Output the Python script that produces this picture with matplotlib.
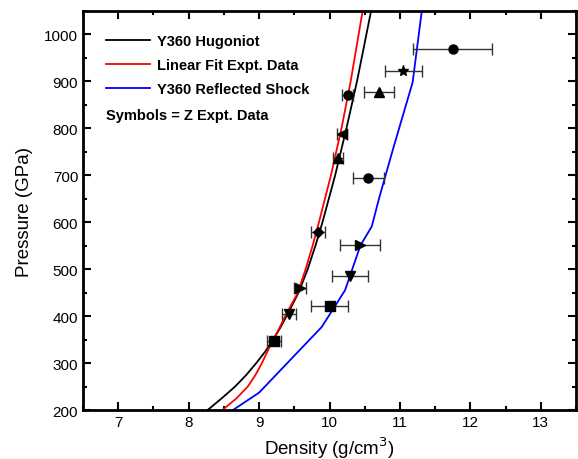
import matplotlib
matplotlib.use("Agg")
import matplotlib.pyplot as plt
from matplotlib.ticker import MultipleLocator

plt.rcParams['font.family'] = ['Liberation Sans', 'DejaVu Sans']

# curves (pressure in GPa, density in g/cm^3)
hug_p = [200, 225, 250, 275, 300, 325, 350, 375, 400, 450, 500, 550, 600, 700, 800, 900, 1050]
hug_rho = [8.27, 8.47, 8.66, 8.82, 8.96, 9.09, 9.20, 9.30, 9.39, 9.56, 9.69, 9.80, 9.90,
           10.08, 10.24, 10.39, 10.59]

fit_p = [200, 225, 250, 275, 300, 325, 350, 375, 400, 450, 500, 550, 600, 700, 800, 900, 1050]
fit_rho = [8.48, 8.68, 8.84, 8.95, 9.04, 9.12, 9.20, 9.29, 9.37, 9.55, 9.66, 9.76, 9.85,
           10.02, 10.17, 10.30, 10.47]

refl_p = [200, 237, 377, 455, 551, 591, 649, 755, 898, 1050]
refl_rho = [8.63, 9.00, 9.89, 10.22, 10.44, 10.60, 10.70, 10.90, 11.18, 11.31]

# Z experimental points
z_rho = [11.75, 11.05, 10.70, 10.26, 10.18, 10.12, 10.55, 9.84, 10.43, 10.29, 9.58, 10.00, 9.42, 9.21]
z_p = [968, 923, 877, 872, 788, 737, 694, 580, 551, 485, 460, 422, 404, 347]
z_err = [0.56, 0.26, 0.21, 0.08, 0.07, 0.07, 0.22, 0.10, 0.28, 0.26, 0.09, 0.26, 0.10, 0.10]
z_mk = ['o', '*', '^', 'o', '<', '^', 'o', 'D', '>', 'v', '>', 's', 'v', 's']

fig = plt.figure(figsize=(5.78, 4.60), dpi=100)
ax = fig.add_axes([0.1436, 0.1065, 0.853, 0.8674])

ax.plot(hug_rho, hug_p, color='black', lw=1.3, label='Y360 Hugoniot')
ax.plot(fit_rho, fit_p, color='red', lw=1.3, label='Linear Fit Expt. Data')
ax.plot(refl_rho, refl_p, color='blue', lw=1.3, label='Y360 Reflected Shock')

for x, y, e, m in zip(z_rho, z_p, z_err, z_mk):
    ms = 8 if m == '*' else (5 if m == 'D' else 6.5)
    ax.errorbar(x, y, xerr=e, fmt='none', ecolor='#333333', elinewidth=1, capsize=4, capthick=1)
    ax.plot(x, y, marker=m, color='black', ms=ms, ls='none')

ax.set_xlim(6.5, 13.5)
ax.set_ylim(200, 1050)
ax.xaxis.set_major_locator(MultipleLocator(1))
ax.xaxis.set_minor_locator(MultipleLocator(0.5))
ax.yaxis.set_major_locator(MultipleLocator(100))
ax.yaxis.set_minor_locator(MultipleLocator(50))
ax.tick_params(which='both', direction='in', top=True, right=True, width=1.5, labelsize=11)
ax.tick_params(which='major', length=6)
ax.tick_params(which='minor', length=3)
for s in ax.spines.values():
    s.set_linewidth(2)

ax.set_xlabel('Density (g/cm$^3$)', fontsize=13.5, labelpad=4)
ax.set_ylabel('Pressure (GPa)', fontsize=13.5, labelpad=8)

leg = ax.legend(loc='upper left', bbox_to_anchor=(0.02, 0.975), frameon=False,
                handlelength=3.0, handletextpad=0.5, labelspacing=0.68,
                prop={'weight': 'bold', 'size': 10.5})
ax.text(0.047, 0.74, 'Symbols = Z Expt. Data', transform=ax.transAxes,
        fontsize=10.5, fontweight='bold', va='center')

fig.savefig('out.png', dpi=100)
